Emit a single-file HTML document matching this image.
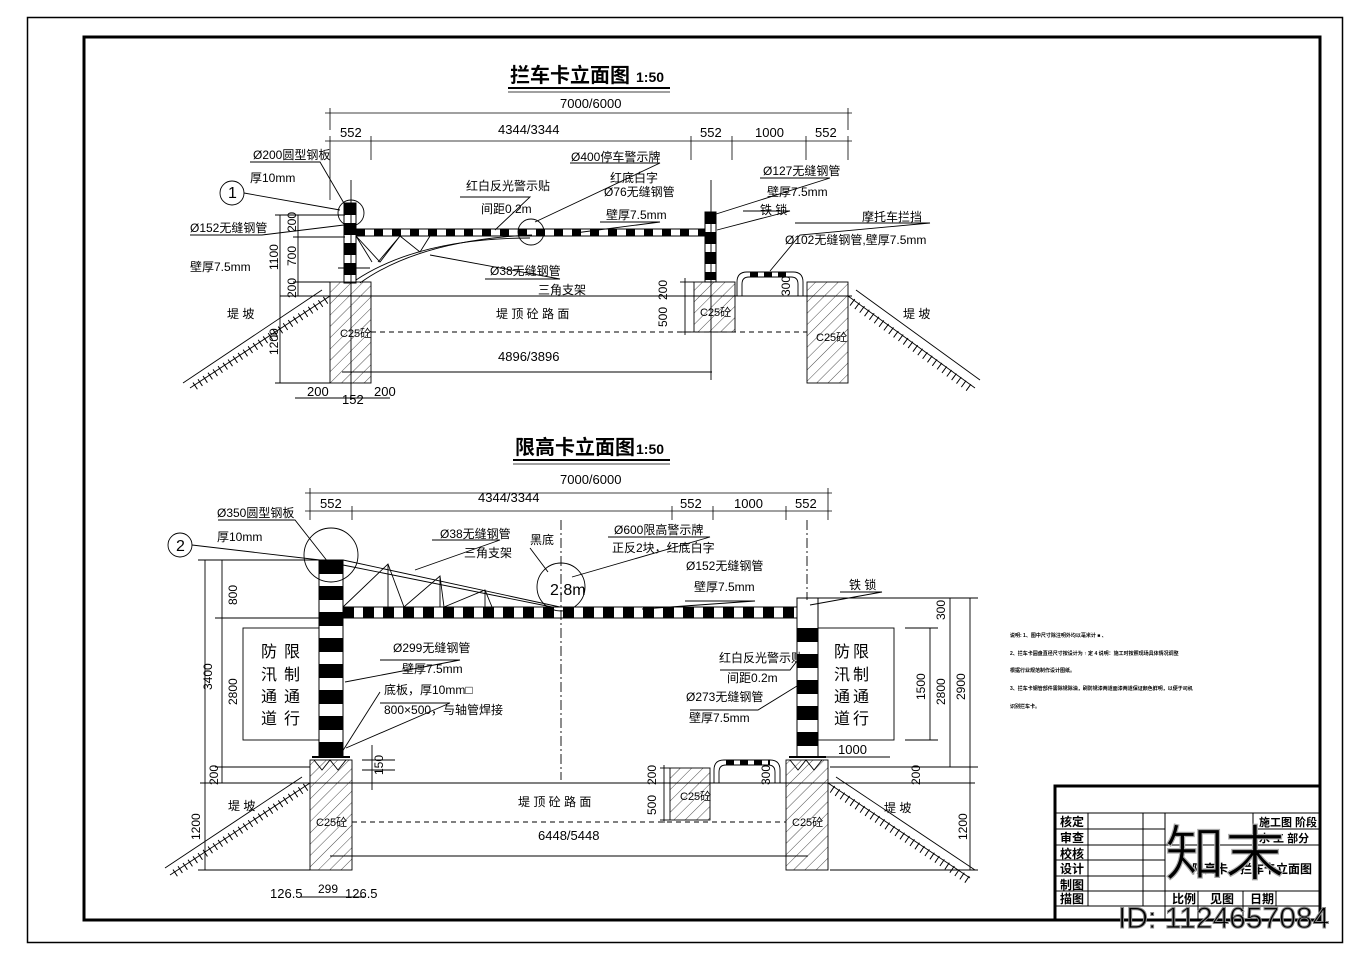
<!DOCTYPE html>
<html><head><meta charset="utf-8"><style>
body{margin:0;background:#fff}
svg{display:block}
text{font-family:"Liberation Sans","Noto Sans CJK SC",sans-serif;fill:#000}
.c{font-family:"Liberation Sans","Noto Sans CJK SC",sans-serif;font-weight:bold}
</style></head><body>
<svg width="1356" height="957" viewBox="0 0 1356 957" xmlns="http://www.w3.org/2000/svg">
<defs>
<pattern id="h" width="8" height="8" patternUnits="userSpaceOnUse" patternTransform="rotate(45)"><line x1="0" y1="0" x2="0" y2="8" stroke="#000" stroke-width="0.7"/></pattern>
</defs>
<!-- borders -->
<rect x="27.5" y="17.5" width="1315" height="925" fill="none" stroke="#000" stroke-width="1.5"/>
<rect x="84" y="37" width="1236" height="883" fill="none" stroke="#000" stroke-width="3"/>

<!-- ================= TOP DIAGRAM ================= -->
<text x="510" y="82" font-size="20" class="c">拦车卡立面图</text>
<text x="636" y="82" font-size="14" font-weight="bold">1:50</text>
<line x1="508" y1="88" x2="670" y2="88" stroke="#000" stroke-width="2"/>
<line x1="508" y1="92" x2="670" y2="92" stroke="#000" stroke-width="0.8"/>
<g stroke="#000" stroke-width="0.8" fill="none">
<line x1="325" y1="113" x2="852" y2="113"/>
<line x1="330" y1="108" x2="330" y2="130"/><line x1="848" y1="108" x2="848" y2="130"/>
<line x1="325" y1="141" x2="852" y2="141"/>
<line x1="330" y1="136" x2="330" y2="200"/><line x1="371" y1="136" x2="371" y2="160"/>
<line x1="691" y1="136" x2="691" y2="160"/><line x1="732" y1="136" x2="732" y2="160"/>
<line x1="806" y1="136" x2="806" y2="160"/><line x1="848" y1="136" x2="848" y2="160"/>
</g>
<g font-size="13">
<text x="560" y="108">7000/6000</text>
<text x="340" y="137">552</text><text x="498" y="134">4344/3344</text>
<text x="700" y="137">552</text><text x="755" y="137">1000</text><text x="815" y="137">552</text>
</g>
<!-- posts -->
<g stroke="#000" stroke-width="1">
<rect x="344" y="203" width="12" height="80" fill="#fff"/>
<line x1="350" y1="203" x2="350" y2="280" stroke-width="12" stroke-dasharray="12 8"/>
<rect x="705" y="212" width="11" height="70" fill="#fff"/>
<line x1="710.5" y1="212" x2="710.5" y2="280" stroke-width="11" stroke-dasharray="12 8"/>
<rect x="356" y="229" width="349" height="7" fill="#fff"/>
<line x1="356" y1="232.5" x2="705" y2="232.5" stroke-width="7" stroke-dasharray="9 9"/>
</g>
<g stroke="#000" stroke-width="0.9" fill="none">
<circle cx="351" cy="213" r="13"/><circle cx="531" cy="232" r="13"/>
<circle cx="232" cy="193" r="12"/>
<path d="M360 283 Q420 240 532 235"/><path d="M356 280 Q420 238 530 238"/>
<path d="M356 236 L380 262 L400 236 L378 262 M400 236 L420 252 L430 236 M356 236 L372 262"/>
<line x1="338" y1="268" x2="370" y2="268"/>
<path d="M737 296 V282 Q737 272 747 272 H793 Q803 272 803 282 V296"/>
<path d="M742 296 V284 Q742 277 749 277 H791 Q798 277 798 284 V296"/>
<line x1="750" y1="274.5" x2="790" y2="274.5" stroke-width="5" stroke-dasharray="8 6"/>
<rect x="330" y="282" width="41" height="101" fill="url(#h)"/>
<rect x="694" y="282" width="41" height="50" fill="url(#h)"/>
<rect x="807" y="282" width="41" height="101" fill="url(#h)"/>
<line x1="280" y1="296" x2="852" y2="296"/>
<line x1="371" y1="332" x2="807" y2="332" stroke-dasharray="5 4"/>
<line x1="342" y1="372" x2="712" y2="372"/>
<!-- slopes -->
<path d="M330 296 L190 388"/><path d="M322 290 L183 383"/>
<path d="M326 300 L192 388" stroke-width="8" stroke-dasharray="1 5"/>
<path d="M848 296 L975 388"/><path d="M856 290 L980 380"/>
<path d="M852 302 L972 390" stroke-width="8" stroke-dasharray="1 5"/>
<!-- dims left -->
<line x1="280" y1="215" x2="280" y2="383"/><line x1="298" y1="215" x2="298" y2="296"/>
<line x1="275" y1="215" x2="345" y2="215"/><line x1="293" y1="237" x2="345" y2="237"/>
<line x1="293" y1="282" x2="330" y2="282"/><line x1="275" y1="383" x2="330" y2="383"/>
<line x1="295" y1="398" x2="390" y2="398"/>
<line x1="680" y1="282" x2="694" y2="282"/><line x1="680" y1="332" x2="694" y2="332"/>
<line x1="685" y1="278" x2="685" y2="335"/>
<line x1="711" y1="180" x2="711" y2="380"/><line x1="351" y1="180" x2="351" y2="400"/>
<!-- leaders -->
<path d="M250 162 H320 L345 205"/><path d="M244 193 L340 210"/>
<path d="M190 235 H262 L344 225"/><path d="M460 197 H530 L495 230"/>
<path d="M570 163 H660 L535 222"/><path d="M600 222 H660 L575 233"/>
<path d="M485 279 H560 L430 255"/><path d="M760 178 H830 L713 215"/>
<path d="M743 211 H790 L717 230"/><path d="M795 223 H930 L800 235 L770 271"/>
</g>
<g font-size="12">
<text x="253" y="159">Ø200圆型钢板</text><text x="250" y="182">厚10mm</text>
<text x="190" y="232">Ø152无缝钢管</text><text x="190" y="271">壁厚7.5mm</text>
<text x="466" y="190">红白反光警示贴</text><text x="481" y="213">间距0.2m</text>
<text x="571" y="161">Ø400停车警示牌</text><text x="610" y="182">红底白字</text>
<text x="604" y="196">Ø76无缝钢管</text><text x="606" y="219">壁厚7.5mm</text>
<text x="490" y="275">Ø38无缝钢管</text><text x="538" y="294">三角支架</text>
<text x="763" y="175">Ø127无缝钢管</text><text x="767" y="196">壁厚7.5mm</text>
<text x="760" y="214">铁 锁</text><text x="862" y="221">摩托车拦挡</text>
<text x="785" y="244">Ø102无缝钢管,壁厚7.5mm</text>
<text x="227" y="318">堤 坡</text><text x="496" y="318">堤 顶 砼 路 面</text><text x="903" y="318">堤 坡</text>
<text x="340" y="337" font-size="11">C25砼</text><text x="700" y="316" font-size="11">C25砼</text><text x="816" y="341" font-size="11">C25砼</text>
<text x="498" y="361" font-size="13">4896/3896</text>
<text x="307" y="396" font-size="13">200</text><text x="342" y="404" font-size="13">152</text><text x="374" y="396" font-size="13">200</text>
<text x="228" y="198" font-size="16">1</text>
</g>
<g font-size="12">
<text transform="translate(296,232) rotate(-90)">200</text>
<text transform="translate(296,266) rotate(-90)">700</text>
<text transform="translate(278,270) rotate(-90)">1100</text>
<text transform="translate(296,298) rotate(-90)">200</text>
<text transform="translate(278,355) rotate(-90)">1200</text>
<text transform="translate(667,300) rotate(-90)">200</text>
<text transform="translate(667,327) rotate(-90)">500</text>
<text transform="translate(790,296) rotate(-90)">300</text>
</g>

<!-- ================= BOTTOM DIAGRAM ================= -->
<text x="515" y="454" font-size="20" class="c">限高卡立面图</text>
<text x="636" y="454" font-size="14" font-weight="bold">1:50</text>
<line x1="513" y1="460" x2="670" y2="460" stroke="#000" stroke-width="2"/>
<line x1="513" y1="464" x2="670" y2="464" stroke="#000" stroke-width="0.8"/>
<g stroke="#000" stroke-width="0.8" fill="none">
<line x1="305" y1="493" x2="832" y2="493"/>
<line x1="310" y1="488" x2="310" y2="520"/><line x1="828" y1="488" x2="828" y2="520"/>
<line x1="305" y1="511" x2="832" y2="511"/>
<line x1="352" y1="506" x2="352" y2="520"/><line x1="672" y1="506" x2="672" y2="520"/>
<line x1="713" y1="506" x2="713" y2="520"/><line x1="786" y1="506" x2="786" y2="520"/>
</g>
<g font-size="13">
<text x="560" y="484">7000/6000</text>
<text x="320" y="508">552</text><text x="478" y="502">4344/3344</text>
<text x="680" y="508">552</text><text x="734" y="508">1000</text><text x="795" y="508">552</text>
</g>
<g stroke="#000" stroke-width="1">
<rect x="319" y="560" width="24" height="197" fill="#fff"/>
<line x1="331" y1="560" x2="331" y2="757" stroke-width="24" stroke-dasharray="14 12"/>
<rect x="797" y="598" width="21" height="159" fill="#fff"/>
<line x1="807.5" y1="628" x2="807.5" y2="757" stroke-width="21" stroke-dasharray="14 12"/>
<rect x="343" y="607" width="454" height="11" fill="#fff"/>
<line x1="343" y1="612.5" x2="797" y2="612.5" stroke-width="11" stroke-dasharray="11 9"/>
</g>
<g stroke="#000" stroke-width="0.9" fill="none">
<path d="M343 560 L560 607"/><path d="M343 565 L552 607"/>
<path d="M343 607 L388 564 L404 607 L440 576 L444 607 L485 590 L492 607 M388 564 V607 M440 576 V607 M485 590 V607"/>
<circle cx="331" cy="555" r="27"/><circle cx="180" cy="545" r="12"/>
<circle cx="561" cy="587" r="24"/>
<line x1="561" y1="520" x2="561" y2="780" stroke-dasharray="10 3 2 3"/>
<line x1="807" y1="520" x2="807" y2="600" stroke-dasharray="10 3 2 3"/>
<rect x="243" y="628" width="76" height="112"/><rect x="818" y="628" width="76" height="112"/>
<rect x="310" y="760" width="42" height="110" fill="url(#h)"/>
<rect x="786" y="760" width="42" height="110" fill="url(#h)"/>
<rect x="670" y="768" width="40" height="52" fill="url(#h)"/>
<path d="M714 783 V770 Q714 760 724 760 H770 Q780 760 780 770 V783"/>
<path d="M719 783 V772 Q719 765 726 765 H768 Q775 765 775 772 V783"/>
<line x1="726" y1="762.5" x2="770" y2="762.5" stroke-width="5" stroke-dasharray="8 6"/>
<line x1="200" y1="783" x2="975" y2="783"/>
<line x1="352" y1="822" x2="786" y2="822" stroke-dasharray="5 4"/>
<line x1="330" y1="856" x2="808" y2="856"/>
<line x1="312" y1="757" x2="350" y2="757" stroke-width="2"/><line x1="789" y1="757" x2="826" y2="757" stroke-width="2"/>
<path d="M314 760 L322 770 L330 760 L338 770 L346 760"/><path d="M790 760 L798 770 L806 760 L814 770 L822 760"/>
<path d="M310 783 L170 875"/><path d="M302 777 L165 868"/>
<path d="M306 787 L172 875" stroke-width="8" stroke-dasharray="1 5"/>
<path d="M828 783 L970 878"/><path d="M836 777 L975 870"/>
<path d="M832 789 L968 880" stroke-width="8" stroke-dasharray="1 5"/>
<line x1="205" y1="560" x2="205" y2="870"/><line x1="222" y1="560" x2="222" y2="783"/>
<line x1="198" y1="560" x2="320" y2="560"/><line x1="215" y1="618" x2="320" y2="618"/>
<line x1="215" y1="767" x2="310" y2="767"/><line x1="198" y1="870" x2="310" y2="870"/>
<line x1="300" y1="897" x2="365" y2="897"/>
<line x1="372" y1="745" x2="372" y2="790"/><line x1="362" y1="760" x2="395" y2="760"/><line x1="362" y1="770" x2="395" y2="770"/>
<line x1="930" y1="628" x2="930" y2="740"/><line x1="950" y1="598" x2="950" y2="767"/><line x1="970" y1="598" x2="970" y2="870"/>
<line x1="818" y1="598" x2="978" y2="598"/><line x1="905" y1="628" x2="938" y2="628"/><line x1="905" y1="740" x2="938" y2="740"/>
<line x1="830" y1="767" x2="978" y2="767"/><line x1="830" y1="870" x2="978" y2="870"/>
<line x1="818" y1="757" x2="890" y2="757"/>
<line x1="660" y1="768" x2="670" y2="768"/><line x1="660" y1="820" x2="670" y2="820"/><line x1="664" y1="765" x2="664" y2="823"/>
<path d="M218 520 H295 L328 562"/><path d="M192 545 L320 560"/>
<path d="M432 540 H500 L415 570"/><path d="M530 548 L548 572"/>
<path d="M608 537 H710 L572 577"/><path d="M685 601 H755 L642 609"/>
<path d="M840 592 H882 L810 605"/>
<path d="M380 660 H460 L345 682"/><path d="M380 703 H450 L346 748"/><path d="M380 692 L342 752"/>
<path d="M720 670 H790 L797 661"/><path d="M690 710 H758 L797 686"/>
</g>
<g font-size="12">
<text x="217" y="517">Ø350圆型钢板</text><text x="217" y="541">厚10mm</text>
<text x="440" y="538">Ø38无缝钢管</text><text x="464" y="557">三角支架</text>
<text x="530" y="544">黑底</text><text x="614" y="534">Ø600限高警示牌</text><text x="612" y="552">正反2块，红底白字</text>
<text x="686" y="570">Ø152无缝钢管</text><text x="694" y="591">壁厚7.5mm</text>
<text x="849" y="589">铁 锁</text>
<text x="393" y="652">Ø299无缝钢管</text><text x="402" y="673">壁厚7.5mm</text>
<text x="384" y="694">底板，厚10mm□</text><text x="384" y="714">800×500，与轴管焊接</text>
<text x="719" y="662">红白反光警示贴</text><text x="727" y="682">间距0.2m</text>
<text x="686" y="701">Ø273无缝钢管</text><text x="689" y="722">壁厚7.5mm</text>
<text x="228" y="810">堤 坡</text><text x="518" y="806">堤 顶 砼 路 面</text><text x="884" y="812">堤 坡</text>
<text x="316" y="826" font-size="11">C25砼</text><text x="680" y="800" font-size="11">C25砼</text><text x="792" y="826" font-size="11">C25砼</text>
<text x="538" y="840" font-size="13">6448/5448</text>
<text x="838" y="754" font-size="13">1000</text>
<text x="270" y="898" font-size="13">126.5</text><text x="318" y="893" font-size="12">299</text><text x="345" y="898" font-size="13">126.5</text>
<text x="176" y="551" font-size="16">2</text>
<text x="550" y="595" font-size="16">2.8m</text>
</g>
<g font-size="16">
<text x="261" y="657">防</text><text x="284" y="657">限</text><text x="261" y="680">汛</text><text x="284" y="680">制</text>
<text x="261" y="702">通</text><text x="284" y="702">通</text><text x="261" y="724">道</text><text x="284" y="724">行</text>
<text x="834" y="657">防</text><text x="853" y="657">限</text><text x="834" y="680">汛</text><text x="853" y="680">制</text>
<text x="834" y="702">通</text><text x="853" y="702">通</text><text x="834" y="724">道</text><text x="853" y="724">行</text>
</g>
<g font-size="12">
<text transform="translate(237,605) rotate(-90)">800</text>
<text transform="translate(237,705) rotate(-90)">2800</text>
<text transform="translate(212,690) rotate(-90)">3400</text>
<text transform="translate(218,785) rotate(-90)">200</text>
<text transform="translate(200,840) rotate(-90)">1200</text>
<text transform="translate(383,775) rotate(-90)">150</text>
<text transform="translate(925,700) rotate(-90)">1500</text>
<text transform="translate(945,705) rotate(-90)">2800</text>
<text transform="translate(965,700) rotate(-90)">2900</text>
<text transform="translate(945,620) rotate(-90)">300</text>
<text transform="translate(920,785) rotate(-90)">200</text>
<text transform="translate(967,840) rotate(-90)">1200</text>
<text transform="translate(656,785) rotate(-90)">200</text>
<text transform="translate(656,815) rotate(-90)">500</text>
<text transform="translate(770,785) rotate(-90)">300</text>
</g>

<g font-size="5" font-weight="bold">
<text x="1010" y="637">说明: 1、图中尺寸除注明外均以毫米计 ■ 、</text>
<text x="1010" y="655">2、拦车卡圆盘直径尺寸按设计为 ↑ 定 4 说明：施工时按照现场具体情况调整</text>
<text x="1010" y="672">根据行业规范制作设计图纸。</text>
<text x="1010" y="690">3、拦车卡钢管部件需除锈除油，刷防锈漆两道面漆两道保证颜色鲜明，以便于司机</text>
<text x="1010" y="708">识别拦车卡。</text>
</g>

<!-- title block -->
<g stroke="#000" fill="none">
<path d="M1055 920 V786 H1320" stroke-width="3"/>
<g stroke-width="1">
<line x1="1055" y1="813" x2="1320" y2="813"/>
<line x1="1055" y1="829" x2="1165" y2="829"/><line x1="1253" y1="829" x2="1320" y2="829"/>
<line x1="1055" y1="845" x2="1320" y2="845"/>
<line x1="1055" y1="860" x2="1165" y2="860"/>
<line x1="1055" y1="876" x2="1165" y2="876"/>
<line x1="1055" y1="891" x2="1320" y2="891"/>
<line x1="1055" y1="906" x2="1320" y2="906"/>
<line x1="1088" y1="813" x2="1088" y2="906"/><line x1="1143" y1="813" x2="1143" y2="906"/>
<line x1="1165" y1="813" x2="1165" y2="920"/><line x1="1253" y1="813" x2="1253" y2="845"/>
<line x1="1198" y1="891" x2="1198" y2="920"/><line x1="1243" y1="891" x2="1243" y2="920"/><line x1="1276" y1="891" x2="1276" y2="906"/>
</g></g>
<g font-size="12" font-weight="bold">
<text x="1060" y="826">核定</text><text x="1060" y="842">审查</text><text x="1060" y="858">校核</text>
<text x="1060" y="873">设计</text><text x="1060" y="889">制图</text><text x="1060" y="903">描图</text>
<text x="1259" y="826" font-size="11">施工图 阶段</text><text x="1259" y="842" font-size="11">水 工 部分</text>
<text x="1192" y="873">限高卡、拦车卡立面图</text>
<text x="1172" y="903">比例</text><text x="1210" y="903">见图</text><text x="1250" y="903">日期</text>
</g>
<!-- watermark -->
<text x="1165" y="875" font-size="60" fill="none" stroke="#aaa" stroke-width="1.2">知末</text>
<text x="1118" y="928" font-size="30" fill="#fff" stroke="#888" stroke-width="1">ID: 1124657084</text>
</svg>
</body></html>
